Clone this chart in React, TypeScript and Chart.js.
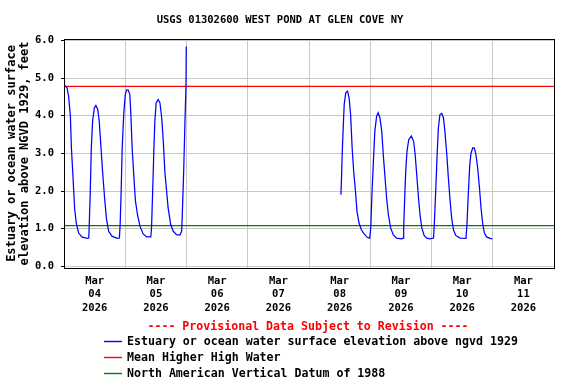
import React, { useEffect, useRef } from "react";
import { Chart, registerables } from "chart.js";

Chart.register(...registerables);

const chartTitle = "USGS 01302600 WEST POND AT GLEN COVE NY";
const yTitleLines = ["Estuary or ocean water surface", "elevation above NGVD 1929, feet"];
const provisionalNote = "---- Provisional Data Subject to Revision ----";

const seriesLabel = "Estuary or ocean water surface elevation above ngvd 1929";
const mhhwLabel = "Mean Higher High Water";
const navdLabel = "North American Vertical Datum of 1988";

const seriesColor = "#0000ff";
const mhhwColor = "#ff0000";
const navdColor = "#008000";

// hours since Mar 04 2026 00:00
const hoursPart1 = [
  0, 1.2, 1.8, 2.5, 2.9, 3.4, 3.8, 4.2, 4.8, 5.7, 7.0, 9.0, 9.7, 9.9, 10.3, 10.7, 11.2, 11.9, 12.5,
  13.2, 13.8, 14.5, 15.1, 15.9, 16.6, 17.5, 18.8, 20.8, 21.7, 22.0, 22.4, 22.8, 23.4, 24.0, 24.5,
  25.2, 25.8, 26.2, 26.7, 27.4, 28.0, 28.8, 29.8, 31.0, 32.4, 34.0, 34.3, 34.7, 35.2, 35.6, 36.1,
  36.9, 37.6, 38.3, 38.9, 39.5, 40.2, 40.8, 41.8, 42.8, 44.1, 45.4, 46.1, 46.3, 46.9, 47.4, 47.8, 47.9,
];
const levelPart1 = [
  4.82, 4.74, 4.52, 3.99, 3.15, 2.53, 2.0, 1.51, 1.15, 0.89, 0.78, 0.74, 0.75, 1.11, 2.0, 3.15, 3.86, 4.21, 4.27,
  4.17, 3.86, 3.15, 2.53, 1.82, 1.28, 0.93, 0.8, 0.74, 0.75, 1.11, 2.0, 3.15, 4.03, 4.56, 4.68,
  4.68, 4.56, 4.03, 3.15, 2.35, 1.73, 1.37, 1.06, 0.86, 0.78, 0.78, 1.02, 1.9, 3.06, 3.86, 4.34,
  4.43, 4.34, 3.94, 3.32, 2.53, 2.0, 1.55, 1.11, 0.93, 0.84, 0.83, 0.93, 1.28, 2.53, 3.86, 4.79, 5.84,
];
const hoursPart2 = [
  108.5, 108.7, 109.0, 109.4, 109.8, 110.4, 111.1, 111.7, 112.3, 112.9, 113.5, 114.2, 114.8, 115.6,
  116.5, 117.6, 118.8, 119.8, 120.2, 120.7, 121.3, 121.8, 122.5, 123.1, 123.8, 124.5, 125.1, 125.8,
  126.4, 127.1, 128.0, 129.0, 130.3, 132.2, 132.9, 133.1, 133.5, 133.9, 134.4, 135.1, 136.1, 137.0,
  137.6, 138.2, 138.9, 139.5, 140.2, 141.1, 142.1, 143.4, 144.8, 145.1, 145.7, 146.2, 146.7, 147.3,
  148.0, 148.7, 149.3, 150.0, 150.6, 151.3, 151.9, 152.6, 153.5, 155.2, 157.5, 157.9, 158.4, 159.0,
  159.5, 160.2, 160.8, 161.4, 162.1, 162.8, 163.4, 164.1, 164.7, 165.6, 166.9, 167.8,
];
const levelPart2 = [
  1.9, 2.26, 2.97, 3.68, 4.3, 4.61, 4.65, 4.48, 4.03, 3.15, 2.53, 2.0, 1.46, 1.15,
  0.97, 0.86, 0.77, 0.75, 1.02, 2.0, 2.88, 3.59, 3.99, 4.08, 3.94, 3.59, 2.97, 2.35,
  1.82, 1.37, 1.02, 0.84, 0.75, 0.73, 0.75, 1.02, 1.82, 2.53, 3.06, 3.37, 3.46, 3.32,
  2.97, 2.44, 1.82, 1.37, 1.02, 0.82, 0.75, 0.73, 0.75, 1.11, 2.08, 2.97, 3.68, 4.03,
  4.06, 3.94, 3.55, 2.97, 2.35, 1.73, 1.28, 0.97, 0.82, 0.75, 0.74, 1.11, 1.9, 2.7,
  3.01, 3.15, 3.14, 2.97, 2.61, 2.08, 1.55, 1.11, 0.89, 0.78, 0.74, 0.73,
];

const mhhwLevel = 4.78;
const navdLevel = 1.08;

const xStartHour = 0;
const xEndHour = 192;
const monthName = "Mar";
const dayNames = ["04", "05", "06", "07", "08", "09", "10", "11"];
const yearName = "2026";
const yTickValues = [0, 1, 2, 3, 4, 5, 6];
const yMin = -0.045;
const yMax = 6.037;

const FONT = "DejaVu Sans Mono";

export default function App() {
  const canvasRef = useRef<HTMLCanvasElement | null>(null);

  useEffect(() => {
    const canvas = canvasRef.current;
    if (!canvas) return;

    const seriesData: any[] = [];
    hoursPart1.forEach((h, i) => seriesData.push({ x: h, y: levelPart1[i] }));
    seriesData.push({ x: (hoursPart1[hoursPart1.length - 1] + hoursPart2[0]) / 2, y: null });
    hoursPart2.forEach((h, i) => seriesData.push({ x: h, y: levelPart2[i] }));

    const xTickHours: number[] = [];
    for (let h = xStartHour; h <= xEndHour; h += 12) xTickHours.push(h);

    const legendColors = [seriesColor, mhhwColor, navdColor];

    const chromePlugin = {
      id: "usgsChrome",
      beforeDraw(chart: any) {
        const ctx = chart.ctx;
        ctx.save();
        ctx.fillStyle = "#ffffff";
        ctx.fillRect(0, 0, chart.width, chart.height);
        ctx.restore();
      },
      afterDraw(chart: any) {
        const ctx = chart.ctx;
        const a = chart.chartArea;
        ctx.save();
        // plot frame
        ctx.strokeStyle = "#000000";
        ctx.lineWidth = 1;
        ctx.strokeRect(a.left + 0.5, a.top + 0.5, a.right - a.left, a.bottom - a.top);

        // title
        ctx.fillStyle = "#000000";
        ctx.font = `bold 10.5px "${FONT}"`;
        ctx.textAlign = "center";
        ctx.textBaseline = "middle";
        ctx.fillText(chartTitle, 280, 20);

        // y axis title
        ctx.font = `bold 12px "${FONT}"`;
        const cy = (a.top + a.bottom) / 2;
        [12, 25].forEach((x, i) => {
          ctx.save();
          ctx.translate(x, cy);
          ctx.rotate(-Math.PI / 2);
          ctx.fillText(yTitleLines[i], 0, 0);
          ctx.restore();
        });

        // provisional note
        ctx.font = `bold 11.6px "${FONT}"`;
        ctx.fillStyle = "#ff0000";
        ctx.fillText(provisionalNote, 308, 327);

        // legend
        ctx.textAlign = "left";
        chart.data.datasets.forEach((ds: any, i: number) => {
          const y = 341 + i * 16;
          ctx.strokeStyle = legendColors[i];
          ctx.lineWidth = 1.4;
          ctx.beginPath();
          ctx.moveTo(104, y + 0.5);
          ctx.lineTo(122, y + 0.5);
          ctx.stroke();
          ctx.fillStyle = "#000000";
          ctx.fillText(ds.label, 127, y + 1);
        });
        ctx.restore();
      },
    };

    const chart = new Chart(canvas, {
      type: "line",
      data: {
        datasets: [
          {
            label: seriesLabel,
            data: seriesData,
            borderColor: seriesColor,
            borderWidth: 1.25,
            pointRadius: 0,
            tension: 0,
            spanGaps: false,
          },
          {
            label: mhhwLabel,
            data: [
              { x: xStartHour, y: mhhwLevel },
              { x: xEndHour, y: mhhwLevel },
            ],
            borderColor: mhhwColor,
            borderWidth: 1.25,
            pointRadius: 0,
          },
          {
            label: navdLabel,
            data: [
              { x: xStartHour, y: navdLevel },
              { x: xEndHour, y: navdLevel },
            ],
            borderColor: navdColor,
            borderWidth: 1.25,
            pointRadius: 0,
          },
        ],
      },
      options: {
        animation: false,
        responsive: false,
        devicePixelRatio: 1,
        layout: { padding: { top: 39, right: 22, left: 0, bottom: 0 } },
        plugins: {
          legend: { display: false },
          title: { display: false },
          tooltip: { enabled: false },
        },
        scales: {
          x: {
            type: "linear",
            min: xStartHour,
            max: xEndHour,
            afterFit(scale: any) {
              scale.height = 116;
            },
            afterBuildTicks(scale: any) {
              scale.ticks = xTickHours.map((v) => ({ value: v }));
            },
            border: { display: false },
            grid: {
              drawTicks: false,
              color: (c: any) =>
                c.tick && c.tick.value % 24 === 0 ? "#c8c8c8" : "rgba(0,0,0,0)",
              lineWidth: 1,
            },
            ticks: {
              autoSkip: false,
              maxRotation: 0,
              minRotation: 0,
              padding: 6,
              color: "#000000",
              font: { family: FONT, size: 10.5, weight: "bold", lineHeight: 1.3 },
              callback: (value: any) => {
                const v = Number(value);
                if (v % 24 !== 12) return "";
                const idx = Math.round((v - 12) / 24);
                return [monthName, dayNames[idx], yearName];
              },
            },
          },
          y: {
            type: "linear",
            min: yMin,
            max: yMax,
            afterFit(scale: any) {
              scale.width = 64;
            },
            afterBuildTicks(scale: any) {
              scale.ticks = yTickValues.map((v) => ({ value: v }));
            },
            border: { display: false },
            grid: {
              color: "#c8c8c8",
              lineWidth: 1,
              tickLength: 3,
              tickColor: "#000000",
            },
            ticks: {
              padding: 7,
              color: "#000000",
              font: { family: FONT, size: 10.5, weight: "bold" },
              callback: (value: any) => Number(value).toFixed(1),
            },
          },
        },
      },
      plugins: [chromePlugin],
    } as any);

    return () => {
      chart.destroy();
    };
  }, []);

  return (
    <div style={{ position: "fixed", left: 0, top: 0, width: 576, height: 384, background: "#ffffff" }}>
      <canvas ref={canvasRef} width={576} height={384} style={{ display: "block", width: 576, height: 384 }} />
    </div>
  );
}
